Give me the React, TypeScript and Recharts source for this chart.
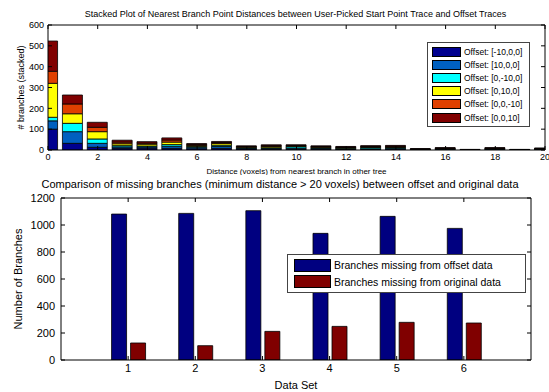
import { ComposedChart, Bar, Line, XAxis, YAxis, Legend, Label } from "recharts";

const distances = [0, 1, 2, 3, 4, 5, 6, 7, 8, 9, 10, 11, 12, 13, 14, 15, 16, 17, 18, 19, 20];
const distanceTicks = [0, 2, 4, 6, 8, 10, 12, 14, 16, 18, 20];
const countTicks = [0, 100, 200, 300, 400, 500, 600];

const offsetNames = [
  "Offset: [-10,0,0]",
  "Offset: [10,0,0]",
  "Offset: [0,-10,0]",
  "Offset: [0,10,0]",
  "Offset: [0,0,-10]",
  "Offset: [0,0,10]",
];
const offsetColors = ["#00008f", "#0060c0", "#00ffff", "#ffff00", "#e04000", "#800000"];

const xNeg = [100, 32, 13, 8, 9, 8, 6, 8, 5, 4, 4, 4, 3, 3, 4, 1, 2, 1, 2, 1, 2];
const xPos = [40, 56, 19, 7, 6, 10, 7, 9, 3, 4, 5, 4, 3, 3, 4, 1, 2, 0, 2, 0, 1];
const yNeg = [17, 40, 21, 6, 4, 8, 4, 6, 3, 3, 7, 3, 3, 6, 4, 1, 2, 1, 2, 0, 2];
const yPos = [163, 46, 35, 9, 9, 12, 5, 8, 3, 6, 3, 3, 3, 3, 3, 1, 2, 0, 2, 1, 1];
const zNeg = [58, 47, 21, 8, 5, 10, 4, 5, 3, 4, 3, 3, 2, 2, 3, 1, 1, 1, 1, 0, 2];
const zPos = [145, 43, 24, 9, 7, 10, 5, 5, 3, 4, 3, 3, 3, 4, 4, 1, 2, 0, 2, 1, 1];
const offsetSeries = [xNeg, xPos, yNeg, yPos, zNeg, zPos];

const dataSets = [1, 2, 3, 4, 5, 6];
const missingFromOffset = [1081, 1086, 1106, 938, 1064, 975];
const missingFromOriginal = [126, 106, 212, 249, 279, 274];
const missingTicks = [0, 200, 400, 600, 800, 1000, 1200];
const missingNames = ["Branches missing from offset data", "Branches missing from original data"];
const missingColors = ["#000080", "#800000"];

const FONT = "'Liberation Sans', Arial, sans-serif";

const stackedData = distances.map((d, i) => {
  const row: Record<string, number> = { distance: d };
  offsetSeries.forEach((s, k) => {
    row[`s${k}`] = s[i];
  });
  return row;
});

const missingData = dataSets.map((d, i) => ({
  set: d,
  offset: missingFromOffset[i],
  original: missingFromOriginal[i],
}));

const LegendBox = ({
  names,
  colors,
  width,
  rowHeight,
  patchW,
  patchH,
  fontSize,
  padLeft,
}: {
  names: string[];
  colors: string[];
  width: number;
  rowHeight: number;
  patchW: number;
  patchH: number;
  fontSize: number;
  padLeft: number;
}) => (
  <div
    style={{
      width,
      boxSizing: "border-box",
      border: "1px solid #444",
      background: "#fff",
      padding: `2px 0 2px ${padLeft}px`,
      fontFamily: FONT,
    }}
  >
    {names.map((n, i) => (
      <div key={n} style={{ display: "flex", alignItems: "center", height: rowHeight }}>
        <span
          style={{
            display: "inline-block",
            width: patchW,
            height: patchH,
            background: colors[i],
            border: "1px solid #000",
            boxSizing: "border-box",
          }}
        />
        <span style={{ marginLeft: 3, fontSize, color: "#000", whiteSpace: "nowrap" }}>{n}</span>
      </div>
    ))}
  </div>
);

const tickStyle = (size: number) => ({ fill: "#000", fontSize: size, fontFamily: FONT });
// mirrored box axes: keep the tick lines, draw no labels
const noLabel = () => <g />;

export default function App() {
  return (
    <div
      style={{
        position: "absolute",
        left: 0,
        top: 0,
        width: 549,
        height: 392,
        background: "#fff",
        fontFamily: FONT,
        overflow: "hidden",
      }}
    >
      <div
        style={{
          position: "absolute",
          left: 0,
          top: 9,
          width: 591,
          textAlign: "center",
          fontSize: 9,
          color: "#000",
        }}
      >
        Stacked Plot of Nearest Branch Point Distances between User-Picked Start Point Trace and Offset Traces
      </div>

      <div style={{ position: "absolute", left: 0, top: 0 }}>
        <ComposedChart
          width={549}
          height={175}
          data={stackedData}
          margin={{ top: 24, right: 3, left: 0, bottom: 0 }}
          barSize={20}
        >
          <XAxis
            dataKey="distance"
            type="number"
            domain={[0, 20]}
            ticks={distanceTicks}
            interval={0}
            allowDataOverflow
            height={25}
            tickSize={-4}
            tickMargin={8}
            stroke="#000"
            tick={tickStyle(9)}
          >
            <Label
              value="Distance (voxels) from nearest branch in other tree"
              position="insideBottom"
              offset={1}
              style={{ fontSize: 8, fill: "#000", fontFamily: FONT }}
            />
          </XAxis>
          <XAxis
            xAxisId="top"
            dataKey="distance"
            orientation="top"
            type="number"
            domain={[0, 20]}
            ticks={distanceTicks}
            interval={0}
            allowDataOverflow
            height={1}
            tickSize={-4}
            tick={noLabel}
            stroke="#000"
          />
          <YAxis
            type="number"
            domain={[0, 600]}
            ticks={countTicks}
            interval={0}
            allowDataOverflow
            width={48}
            tickSize={-4}
            tickMargin={8}
            stroke="#000"
            tick={tickStyle(9)}
          >
            <Label
              value="# branches (stacked)"
              position="center"
              angle={-90}
              dx={-3}
              style={{ fontSize: 9, fill: "#000", fontFamily: FONT, textAnchor: "middle" }}
            />
          </YAxis>
          <YAxis
            yAxisId="right"
            orientation="right"
            type="number"
            domain={[0, 600]}
            ticks={countTicks}
            interval={0}
            allowDataOverflow
            width={1}
            tickSize={-4}
            tick={noLabel}
            stroke="#000"
          />
          {offsetNames.map((name, k) => (
            <Bar
              key={name}
              name={name}
              dataKey={`s${k}`}
              stackId="offsets"
              fill={offsetColors[k]}
              stroke="#000"
              strokeWidth={0.8}
              isAnimationActive={false}
            />
          ))}
          <Line
            xAxisId="top"
            yAxisId="right"
            dataKey="s0"
            stroke="none"
            dot={false}
            activeDot={false}
            legendType="none"
            isAnimationActive={false}
          />
          <Legend
            layout="vertical"
            align="center"
            verticalAlign="middle"
            wrapperStyle={{ left: 427, top: 42, width: 103 }}
            content={() => (
              <LegendBox
                names={offsetNames}
                colors={offsetColors}
                width={103}
                rowHeight={13.2}
                patchW={29}
                patchH={10}
                fontSize={8.5}
                padLeft={4}
              />
            )}
          />
        </ComposedChart>
      </div>

      <div
        style={{
          position: "absolute",
          left: 0,
          top: 178,
          width: 560,
          textAlign: "center",
          fontSize: 11,
          color: "#000",
        }}
      >
        Comparison of missing branches (minimum distance &gt; 20 voxels) between offset and original data
      </div>

      <div style={{ position: "absolute", left: 0, top: 175 }}>
        <ComposedChart
          width={549}
          height={217}
          data={missingData}
          margin={{ top: 22, right: 17, left: 0, bottom: 0 }}
          barSize={15}
          barGap={4}
        >
          <XAxis
            dataKey="set"
            type="number"
            domain={[0, 7]}
            ticks={dataSets}
            interval={0}
            allowDataOverflow
            height={32}
            tickSize={-4}
            tickMargin={8}
            stroke="#000"
            tick={tickStyle(11)}
          >
            <Label
              value="Data Set"
              position="insideBottom"
              offset={3}
              style={{ fontSize: 11, fill: "#000", fontFamily: FONT }}
            />
          </XAxis>
          <XAxis
            xAxisId="top"
            dataKey="set"
            orientation="top"
            type="number"
            domain={[0, 7]}
            ticks={dataSets}
            interval={0}
            allowDataOverflow
            height={1}
            tickSize={-4}
            tick={noLabel}
            stroke="#000"
          />
          <YAxis
            type="number"
            domain={[0, 1200]}
            ticks={missingTicks}
            interval={0}
            allowDataOverflow
            width={61}
            tickSize={-4}
            tickMargin={10}
            stroke="#000"
            tick={tickStyle(11)}
          >
            <Label
              value="Number of Branches"
              position="center"
              angle={-90}
              dx={-12}
              style={{ fontSize: 11, fill: "#000", fontFamily: FONT, textAnchor: "middle" }}
            />
          </YAxis>
          <YAxis
            yAxisId="right"
            orientation="right"
            type="number"
            domain={[0, 1200]}
            ticks={missingTicks}
            interval={0}
            allowDataOverflow
            width={1}
            tickSize={-4}
            tick={noLabel}
            stroke="#000"
          />
          <Bar
            dataKey="offset"
            name={missingNames[0]}
            fill={missingColors[0]}
            stroke="#000"
            strokeWidth={0.8}
            isAnimationActive={false}
          />
          <Bar
            dataKey="original"
            name={missingNames[1]}
            fill={missingColors[1]}
            stroke="#000"
            strokeWidth={0.8}
            isAnimationActive={false}
          />
          <Line
            xAxisId="top"
            yAxisId="right"
            dataKey="original"
            stroke="none"
            dot={false}
            activeDot={false}
            legendType="none"
            isAnimationActive={false}
          />
          <Legend
            layout="vertical"
            align="center"
            verticalAlign="middle"
            wrapperStyle={{ left: 287, top: 79, width: 239 }}
            content={() => (
              <LegendBox
                names={missingNames}
                colors={missingColors}
                width={239}
                rowHeight={16.5}
                patchW={37}
                patchH={13}
                fontSize={10.5}
                padLeft={6}
              />
            )}
          />
        </ComposedChart>
      </div>
    </div>
  );
}
